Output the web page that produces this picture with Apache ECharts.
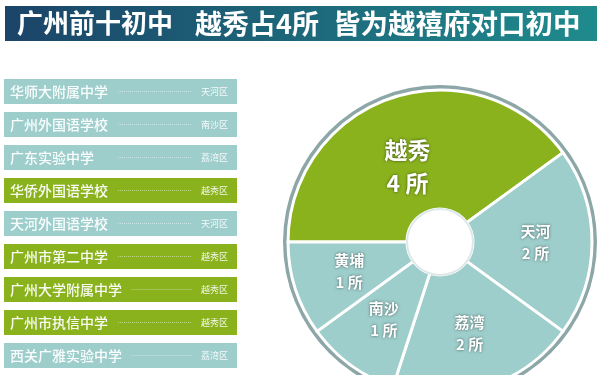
<!DOCTYPE html>
<html><head><meta charset="utf-8">
<script src="https://cdn.jsdelivr.net/npm/echarts@6/dist/echarts.min.js"></script>
<style>html,body{margin:0;padding:0;background:#fff}#c{width:601px;height:375px}</style>
</head><body><div id="c"></div>
<script>
const titleParts = ['广州前十初中', '越秀占4所', '皆为越禧府对口初中'];
const schools = ['华师大附属中学','广州外国语学校','广东实验中学','华侨外国语学校','天河外国语学校','广州市第二中学','广州大学附属中学','广州市执信中学','西关广雅实验中学'];
const schoolDistricts = ['天河区','南沙区','荔湾区','越秀区','天河区','越秀区','越秀区','越秀区','荔湾区'];
const districts = ['越秀','天河','荔湾','南沙','黄埔'];
const districtCounts = [4,2,2,1,1];

const GREEN = '#89b21d', TEAL = '#9dcecc', RING = '#8da6a7';
const FONT = '"Noto Sans CJK SC", "Noto Sans", sans-serif';

const chart = echarts.init(document.getElementById('c'));
chart.setOption({
  animation: false,
  graphic: [{
    type: 'rect', left: 5, top: 6, shape: {width: 592, height: 35},
    style: {fill: new echarts.graphic.LinearGradient(0,0,1,0,[{offset:0,color:'#1b4468'},{offset:1,color:'#1f8b8d'}])},
    z: 0
  }],
  title: {
    text: '{a|' + titleParts[0] + '}{b|' + titleParts[1] + '}{c|' + titleParts[2] + '}',
    left: 12, top: 1,
    textStyle: {
      color: '#fff', fontWeight: 'bold', fontFamily: FONT,
      rich: {
        a: {color: '#fff', fontSize: 26, fontWeight: 'bold', fontFamily: FONT, lineHeight: 35},
        b: {color: '#fff', fontSize: 27, fontWeight: 'bold', fontFamily: FONT, lineHeight: 35, padding: [0, 0, 0, 22]},
        c: {color: '#fff', fontSize: 27.5, fontWeight: 'bold', fontFamily: FONT, lineHeight: 35, padding: [0, 0, 0, 14]}
      }
    }
  },
  grid: {left: 4, width: 233, top: 75, height: 297},
  xAxis: {type: 'value', min: 0, max: 1, show: false},
  yAxis: {type: 'category', data: schools, inverse: true, show: false},
  series: [
    {
      type: 'custom',
      data: schools.map((s, i) => [1, i]),
      renderItem: function (params, api) {
        const i = api.value(1);
        const p0 = api.coord([0, i]);
        const p1 = api.coord([1, i]);
        const band = api.size([0, 1])[1];
        const h = band * 0.76;
        const name = schools[i];
        const dist = schoolDistricts[i];
        const fill = dist === '越秀区' ? GREEN : TEAL;
        const lineStart = Math.max(118, p0[0] + 7 + name.length * 14.2 + 7);
        return {
          type: 'group',
          children: [
            {type: 'rect', shape: {x: p0[0], y: p0[1] - h / 2, width: p1[0] - p0[0], height: h}, style: {fill: fill}},
            {type: 'line', shape: {x1: lineStart, y1: p0[1], x2: 192, y2: p0[1]},
              style: {stroke: 'rgba(255,255,255,0.45)', lineWidth: 1, lineDash: [1, 1]}},
            {type: 'text', x: p0[0] + 6, y: p0[1],
              style: {text: name, fill: '#fff', font: '500 14px ' + FONT, textAlign: 'left', textVerticalAlign: 'middle', opacity: 0.95}},
            {type: 'text', x: p1[0] - 9, y: p0[1],
              style: {text: dist, fill: '#fff', font: '9px ' + FONT, textAlign: 'right', textVerticalAlign: 'middle', opacity: 0.9}}
          ]
        };
      }
    },
    {
      type: 'pie', center: [440, 242], radius: [151, 157], silent: true,
      label: {show: false}, labelLine: {show: false},
      itemStyle: {color: RING},
      data: [{value: 1}], z: 1
    },
    {
      type: 'pie', center: [440, 242], radius: [33, 152], startAngle: 180, clockwise: true,
      itemStyle: {borderColor: '#fff', borderWidth: 3},
      data: districts.map((d, i) => ({
        name: d, value: districtCounts[i],
        itemStyle: {color: d === '越秀' ? GREEN : TEAL},
        label: d === '越秀' ? {fontSize: 23, lineHeight: 33, offset: [-3, 16]} : {}
      })),
      label: {
        show: true, position: 'inside',
        formatter: p => p.name + '\n' + p.value + ' 所',
        color: '#fff', fontSize: 15, lineHeight: 22, fontWeight: 'bold', fontFamily: FONT,
        textShadowColor: 'rgba(0,0,0,0.55)', textShadowBlur: 3
      },
      labelLine: {show: false}, z: 2
    },
    {
      type: 'pie', center: [440, 242], radius: [32, 34], silent: true,
      label: {show: false}, labelLine: {show: false},
      itemStyle: {color: '#dfe8e8'},
      data: [{value: 1}], z: 3
    }
  ]
});
</script></body></html>
